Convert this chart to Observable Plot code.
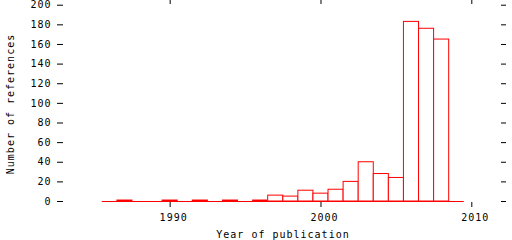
<!DOCTYPE html>
<html>
<head>
<meta charset="utf-8">
<script src="https://cdn.jsdelivr.net/npm/d3@7"></script>
<script src="https://cdn.jsdelivr.net/npm/@observablehq/plot@0.6"></script>
<style>
  html, body { margin: 0; padding: 0; background: white; }
</style>
</head>
<body>
<div id="chart"></div>
<script>
const years = [1986, 1987, 1988, 1989, 1990, 1991, 1992, 1993, 1994, 1995, 1996, 1997,
               1998, 1999, 2000, 2001, 2002, 2003, 2004, 2005, 2006, 2007, 2008, 2009];
const counts = [0, 1, 0, 0, 1, 0, 1, 0, 1, 0, 1, 6,
                5, 11, 8, 12, 20, 40, 28, 24, 183, 176, 165, 0];
const xTicks = [1990, 2000, 2010];
const yTicks = [0, 20, 40, 60, 80, 100, 120, 140, 160, 180, 200];
const xLabel = "Year of publication";
const yLabel = "Number of references";

const data = years.map((year, i) => ({year, count: counts[i]}));

const W = 512, H = 240, ML = 57, MR = 6, MT = 0, MB = 33;
const frameW = W - ML - MR, frameH = H - MT - MB;

const chart = Plot.plot({
  width: W, height: H,
  marginLeft: ML, marginRight: MR, marginTop: MT, marginBottom: MB,
  style: {fontFamily: "'DejaVu Sans Mono', monospace", fontSize: "10px", letterSpacing: "1px", background: "white", color: "black"},
  x: {domain: [1982.53, 2012.3], axis: null},
  y: {domain: [-6.1, 204.8], axis: null},
  marks: [
    Plot.rect(data.filter(d => d.count > 0), {
      x1: d => d.year - 0.5, x2: d => d.year + 0.5, y1: 0, y2: "count",
      fill: "white", stroke: "#ff0000", strokeWidth: 1
    }),
    Plot.ruleY([0], {x1: years[0] - 0.5, x2: years[years.length - 1] + 0.5, stroke: "#ff0000"}),
    Plot.tickX(xTicks, {x: d => d, insetTop: frameH - 5, stroke: "black"}),
    Plot.tickX(xTicks, {x: d => d, insetBottom: frameH - 4, stroke: "black"}),
    Plot.tickY(yTicks, {y: d => d, insetRight: frameW - 6, stroke: "black"}),
    Plot.tickY(yTicks, {y: d => d, insetLeft: frameW - 5, stroke: "black"}),
    Plot.axisX(xTicks, {anchor: "bottom", tickSize: 0, tickPadding: 6, dx: 3.5, label: null, tickFormat: d => String(d)}),
    Plot.axisY(yTicks, {anchor: "left", tickSize: 0, tickPadding: 6, label: null, tickFormat: d => String(d)}),
    Plot.text([yLabel], {text: d => d, frameAnchor: "left", textAnchor: "middle", rotate: -90, dx: -43.5, lineAnchor: "bottom"}),
    Plot.text([xLabel], {text: d => d, frameAnchor: "bottom", textAnchor: "middle", dy: 30.7, dx: 1, lineAnchor: "bottom"})
  ]
});
document.getElementById("chart").appendChild(chart);
</script>
</body>
</html>
